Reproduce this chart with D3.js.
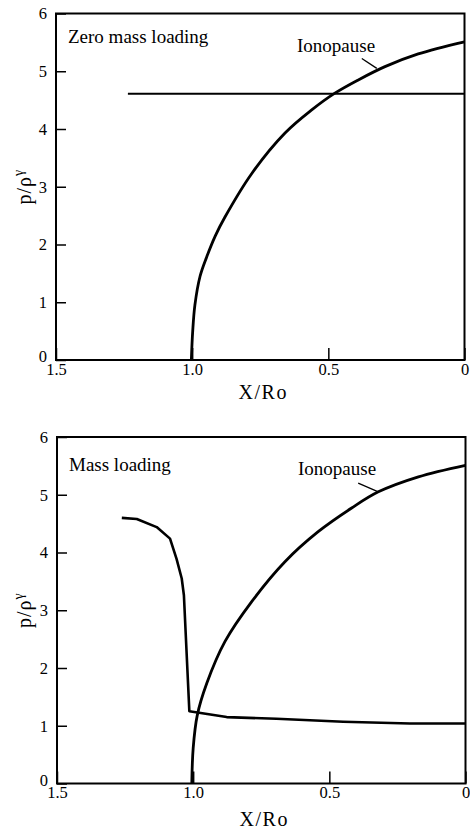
<!DOCTYPE html>
<html><head><meta charset="utf-8">
<script src="https://cdn.jsdelivr.net/npm/d3@7"></script>
<style>body{margin:0;background:#fff}svg{display:block}</style>
</head><body>
<script>
// ---- data ----
const xTicks = [1.5, 1.0, 0.5, 0];
const xTickLabels = ["1.5", "1.0", "0.5", "0"];
const yTicks = [0, 1, 2, 3, 4, 5, 6];
const panelTitles = ["Zero mass loading", "Mass loading"];
const curveLabel = "Ionopause";
const xTitle = "X/Ro";

// top panel: ionopause curve
const ionoTopX = [1.003, 0.998, 0.990, 0.971, 0.947, 0.915, 0.879, 0.781, 0.659, 0.561, 0.476, 0.390, 0.292, 0.170, 0.0];
const ionoTopY = [0, 0.5, 0.95, 1.45, 1.78, 2.15, 2.48, 3.23, 3.93, 4.33, 4.62, 4.85, 5.08, 5.30, 5.51];
// top panel: horizontal p/rho^gamma line
const flatTopX = [1.236, 0.0];
const flatTopY = [4.61, 4.61];

// bottom panel: ionopause curve
const ionoBotX = [1.005, 1.0, 0.985, 0.950, 0.883, 0.785, 0.663, 0.541, 0.418, 0.320, 0.173, 0.0];
const ionoBotY = [0, 0.61, 1.18, 1.735, 2.46, 3.15, 3.84, 4.36, 4.77, 5.05, 5.31, 5.51];
// bottom panel: mass-loaded p/rho^gamma
const massX = [1.262, 1.207, 1.134, 1.085, 1.061, 1.042, 1.034, 1.014, 0.877, 0.694, 0.449, 0.204, 0.0];
const massY = [4.60, 4.58, 4.44, 4.24, 3.89, 3.55, 3.26, 1.25, 1.15, 1.12, 1.07, 1.04, 1.04];

const W = 470, H = 828;
const font = "Liberation Serif";
const svg = d3.select("body").append("svg").attr("width", W).attr("height", H)
  .attr("font-family", font);

const zip = (xs, ys) => xs.map((x, i) => [x, ys[i]]);

const panels = [
  {top: 13.5, bottom: 360, left: 56, right: 464.5, title: panelTitles[0], titleY: 42.5, xTitleDy: 39,
   lines: [{d: zip(ionoTopX, ionoTopY), w: 2.8, smooth: true}, {d: zip(flatTopX, flatTopY), w: 2.2, smooth: false}],
   label: {x: 297, y: 52}, leader: [[0.377, 5.22], [0.322, 5.05]]},
  {top: 437, bottom: 783.5, left: 57, right: 465.5, title: panelTitles[1], titleY: 471, xTitleDy: 42,
   lines: [{d: zip(ionoBotX, ionoBotY), w: 2.8, smooth: true}, {d: zip(massX, massY), w: 2.6, smooth: false}],
   label: {x: 298, y: 475}, leader: [[0.394, 5.20], [0.320, 5.05]]}
];

panels.forEach(p => {
  const x = d3.scaleLinear().domain([1.5, 0]).range([p.left, p.right]);
  const y = d3.scaleLinear().domain([0, 6]).range([p.bottom, p.top]);
  const g = svg.append("g");

  g.append("rect").attr("x", p.left).attr("y", p.top)
    .attr("width", p.right - p.left).attr("height", p.bottom - p.top)
    .attr("fill", "none").attr("stroke", "#000").attr("stroke-width", 2);

  const ya = g.append("g").attr("transform", `translate(${p.left},0)`)
    .call(d3.axisLeft(y).tickValues(yTicks).tickSizeInner(-10).tickSizeOuter(0).tickPadding(9).tickFormat(d3.format("d")));
  ya.attr("font-family", font);
  ya.select(".domain").remove();
  ya.selectAll("line").attr("stroke", "#000").attr("stroke-width", 1.5);
  ya.selectAll("text").attr("font-size", 16.5).attr("fill", "#000")
    .attr("dy", d => d === 0 ? "0.1em" : "0.32em");

  const xa = g.append("g").attr("transform", `translate(0,${p.bottom})`)
    .call(d3.axisBottom(x).tickValues(xTicks).tickSizeInner(-12).tickSizeOuter(0).tickPadding(3)
      .tickFormat((d, i) => xTickLabels[i]));
  xa.attr("font-family", font);
  xa.select(".domain").remove();
  xa.selectAll("line").attr("stroke", "#000").attr("stroke-width", 1.5);
  xa.selectAll("text").attr("font-size", 16.5).attr("fill", "#000");

  p.lines.forEach(l => {
    const gen = d3.line().x(d => x(d[0])).y(d => y(d[1]))
      .curve(l.smooth ? d3.curveCatmullRom.alpha(0.5) : d3.curveLinear);
    g.append("path").attr("d", gen(l.d)).attr("fill", "none")
      .attr("stroke", "#000").attr("stroke-width", l.w).attr("stroke-linejoin", "round");
  });

  g.append("text").attr("x", p.left + 12).attr("y", p.titleY)
    .attr("font-size", 19).text(p.title);

  g.append("text").attr("x", p.label.x).attr("y", p.label.y)
    .attr("font-size", 19).text(curveLabel);
  g.append("line")
    .attr("x1", x(p.leader[0][0])).attr("y1", y(p.leader[0][1]))
    .attr("x2", x(p.leader[1][0])).attr("y2", y(p.leader[1][1]))
    .attr("stroke", "#000").attr("stroke-width", 1.3);

  g.append("text").attr("x", (p.left + p.right) / 2 + 3).attr("y", p.bottom + p.xTitleDy)
    .attr("text-anchor", "middle").attr("font-size", 20).attr("letter-spacing", 1.5).text(xTitle);

  const yt = g.append("text")
    .attr("transform", `translate(31,${(p.top + p.bottom) / 2}) rotate(-90)`)
    .attr("text-anchor", "middle").attr("font-size", 20).attr("letter-spacing", 1);
  yt.append("tspan").text("p/\u03C1");
  yt.append("tspan").attr("font-size", 14).attr("dy", -8).text("\u03B3");
});
</script>
</body></html>
